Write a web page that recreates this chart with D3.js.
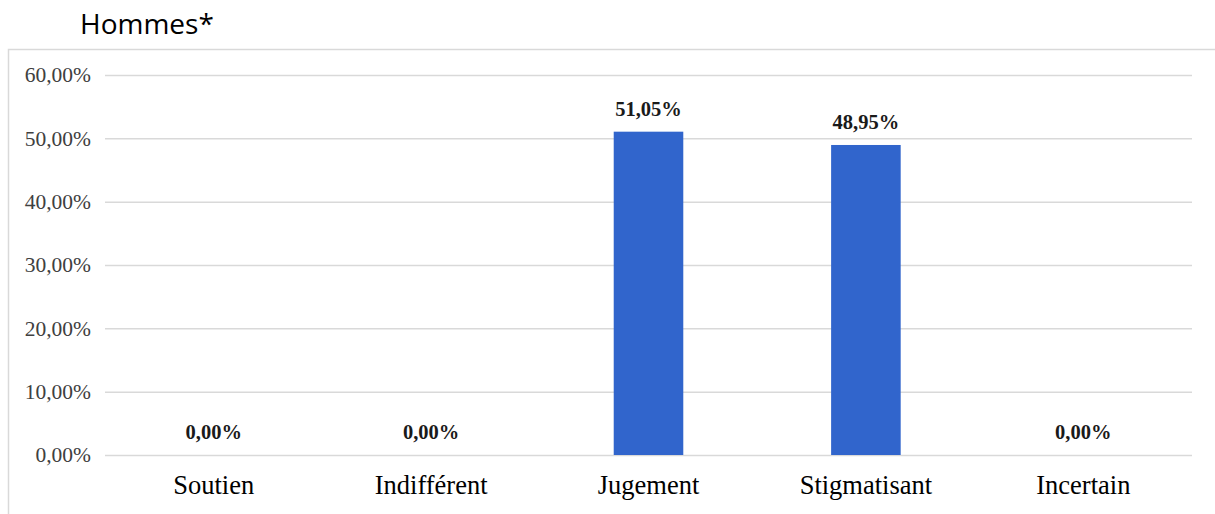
<!DOCTYPE html>
<html lang="fr">
<head>
<meta charset="utf-8">
<script src="https://cdn.jsdelivr.net/npm/d3@7"></script>
<style>
  html, body { margin: 0; padding: 0; background: #ffffff; }
  svg { display: block; }
</style>
</head>
<body>
<svg id="chart" width="1215" height="514"></svg>
<script>
// Répartition des réponses des hommes par type d'attitude
const categories = ["Soutien", "Indifférent", "Jugement", "Stigmatisant", "Incertain"];
const values = [0, 0, 51.05, 48.95, 0];
const yTicks = [0, 10, 20, 30, 40, 50, 60];
const title = "Hommes*";

const svg = d3.select("#chart");
const W = 1215, H = 514;
const plot = { left: 105, right: 1192, top: 75, bottom: 455 };

const fmt = v => v.toFixed(2).replace(".", ",") + "%";

// Titre au-dessus du cadre
svg.append("text")
  .attr("x", 80).attr("y", 34)
  .attr("font-family", "'Open Sans', 'Noto Sans', sans-serif")
  .attr("font-size", 28)
  .attr("fill", "#000")
  .text(title);

// Cadre du graphique
svg.append("rect")
  .attr("x", 8.5).attr("y", 49.5)
  .attr("width", W + 10).attr("height", H)
  .attr("fill", "none")
  .attr("stroke", "#d9d9d9")
  .attr("stroke-width", 1.5);

const x = d3.scaleBand()
  .domain(categories)
  .range([plot.left, plot.right])
  .paddingInner(0.68)
  .paddingOuter(0.34);

const y = d3.scaleLinear()
  .domain([0, 60])
  .range([plot.bottom, plot.top]);

// Axe vertical : quadrillage + libellés
const yAxis = d3.axisLeft(y)
  .tickValues(yTicks)
  .tickSize(-(plot.right - plot.left))
  .tickPadding(14)
  .tickFormat(fmt);

const gy = svg.append("g")
  .attr("transform", `translate(${plot.left},0)`)
  .call(yAxis);
gy.select(".domain").remove();
gy.selectAll(".tick line")
  .attr("stroke", "#d9d9d9")
  .attr("stroke-width", 1.5);
gy.selectAll(".tick text")
  .attr("font-family", "'Liberation Serif', 'Times New Roman', serif")
  .attr("font-size", 21.5)
  .attr("fill", "#404040");

// Axe horizontal : libellés des catégories
const xAxis = d3.axisBottom(x).tickSize(0).tickPadding(20);
const gx = svg.append("g")
  .attr("transform", `translate(0,${plot.bottom})`)
  .call(xAxis);
gx.select(".domain").remove();
gx.selectAll(".tick text")
  .attr("font-family", "'Liberation Serif', 'Times New Roman', serif")
  .attr("font-size", 26.5)
  .attr("fill", "#000");

// Barres
svg.append("g").selectAll("rect")
  .data(categories.map((c, i) => ({ c, v: values[i] })))
  .join("rect")
  .attr("x", d => x(d.c))
  .attr("y", d => y(d.v))
  .attr("width", x.bandwidth())
  .attr("height", d => y(0) - y(d.v))
  .attr("fill", "#3165cc");

// Étiquettes de valeur
svg.append("g").selectAll("text")
  .data(categories.map((c, i) => ({ c, v: values[i] })))
  .join("text")
  .attr("x", d => x(d.c) + x.bandwidth() / 2)
  .attr("y", d => y(d.v) - 16)
  .attr("text-anchor", "middle")
  .attr("font-family", "'Liberation Serif', 'Times New Roman', serif")
  .attr("font-weight", "bold")
  .attr("font-size", 20.5)
  .attr("fill", "#1a1a1a")
  .text(d => fmt(d.v));
</script>
</body>
</html>
